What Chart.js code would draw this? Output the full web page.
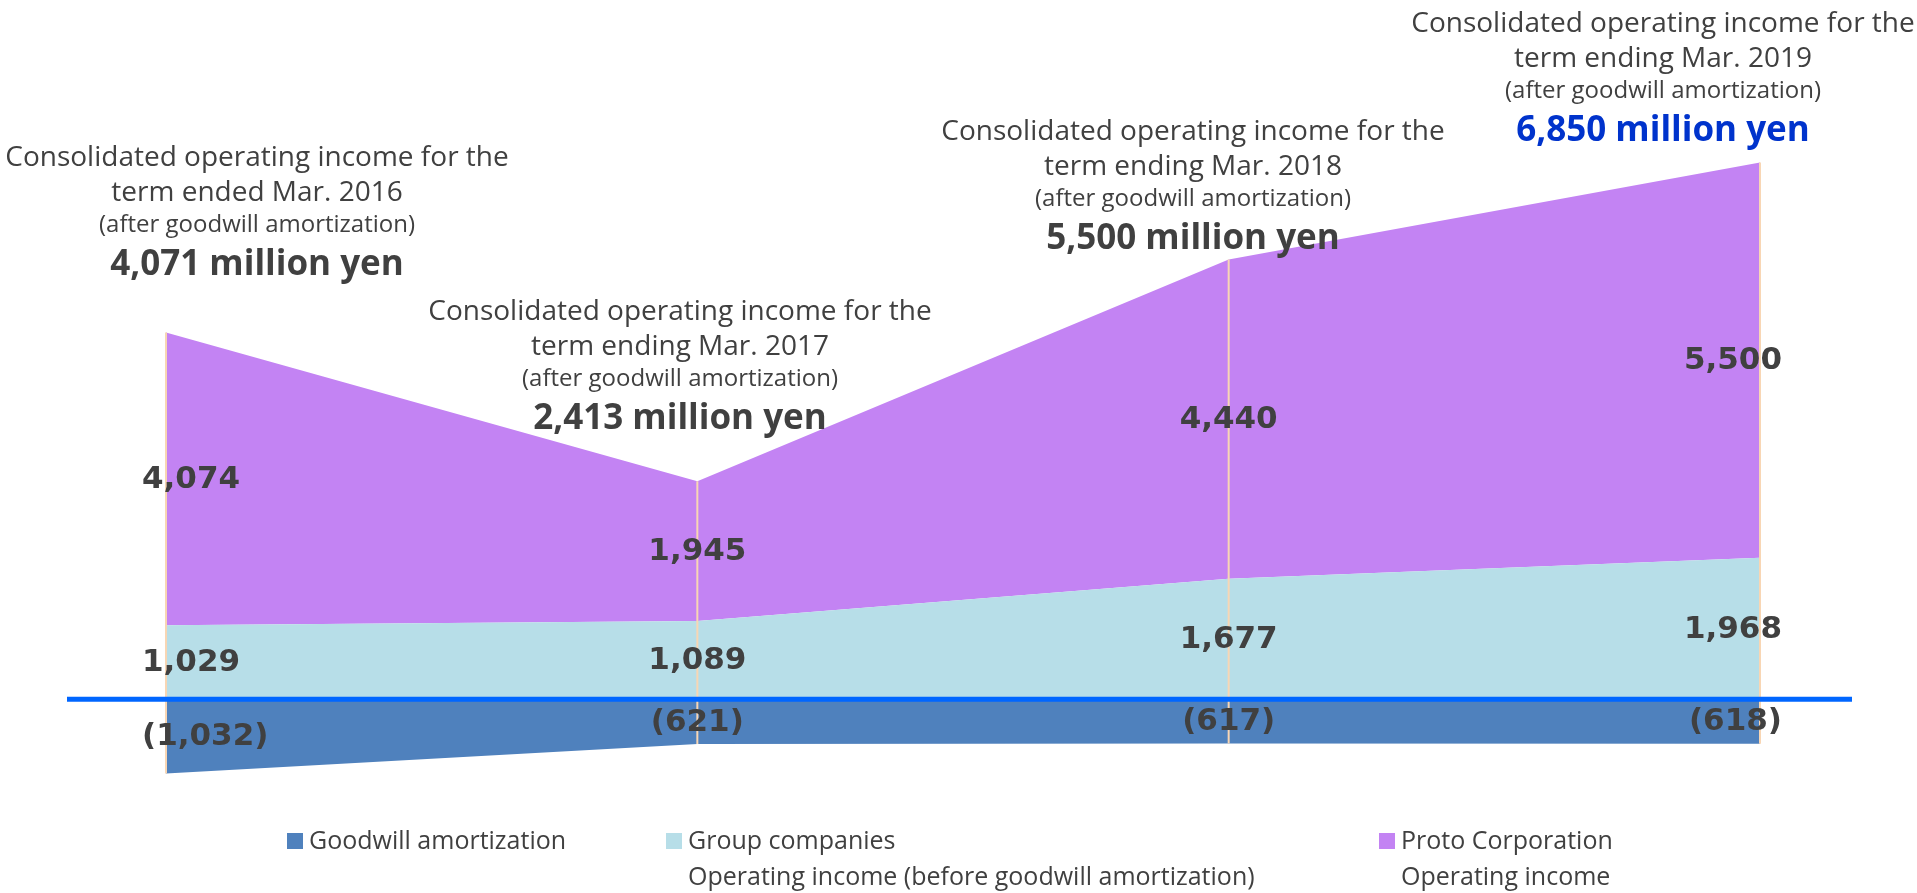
<!DOCTYPE html>
<html>
<head>
<meta charset="utf-8">
<script src="https://cdn.jsdelivr.net/npm/chart.js@4.4.1/dist/chart.umd.min.js"></script>
<style>
    html, body { margin: 0; padding: 0; background: #ffffff; }
    #wrap { width: 1917px; height: 893px; }
</style>
</head>
<body>
<div id="wrap"><canvas id="incomeChart" width="1917" height="893"></canvas></div>
<script>
// Fiscal terms (March year end)
const terms = ['Mar. 2016', 'Mar. 2017', 'Mar. 2018', 'Mar. 2019'];
const termVerbs = ['ended', 'ending', 'ending', 'ending'];

// Operating income, million yen
const goodwill = [-1032, -621, -617, -618];
const groupCompanies = [1029, 1089, 1677, 1968];
const protoCorp = [4074, 1945, 4440, 5500];

const seriesNames = [
    ['Goodwill amortization'],
    ['Group companies', 'Operating income (before goodwill amortization)'],
    ['Proto Corporation', 'Operating income']
];

const colors = {
    goodwill: '#4f81bd',
    group: '#b7dee8',
    proto: '#c383f3',
    text: '#404040',
    highlight: '#0033cc',
    zero: '#0066ff',
    drop: '#f8d6b4'
};

// where the callout blocks sit (centre x, first line y)
const calloutPos = [
    { x: 257, y: 158 },
    { x: 680, y: 312 },
    { x: 1193, y: 132 },
    { x: 1663, y: 24 }
];
const legendPos = [
    { x: 287 },
    { x: 666 },
    { x: 1379 }
];

const TEXT_FONT = '"Open Sans", "Noto Sans", sans-serif';
const NUM_FONT = '"DejaVu Sans", Verdana, sans-serif';

function fmt(v) {
    const s = Math.abs(v).toLocaleString('en-US');
    return v < 0 ? '(' + s + ')' : s;
}

const overlayPlugin = {
    id: 'overlay',
    afterDatasetsDraw(chart) {
        const ctx = chart.ctx;
        const yScale = chart.scales.y;
        const zeroY = yScale.getPixelForValue(0);
        const mGood = chart.getDatasetMeta(0).data;
        const mGroup = chart.getDatasetMeta(1).data;
        const mProto = chart.getDatasetMeta(2).data;
        const last = terms.length - 1;

        ctx.save();

        // thin drop lines at each term
        ctx.strokeStyle = colors.drop;
        ctx.lineWidth = 2;
        mProto.forEach((pt, i) => {
            ctx.beginPath();
            ctx.moveTo(pt.x, pt.y);
            ctx.lineTo(pt.x, mGood[i].y);
            ctx.stroke();
        });

        // zero line
        ctx.strokeStyle = colors.zero;
        ctx.lineWidth = 5;
        ctx.beginPath();
        ctx.moveTo(67, zeroY);
        ctx.lineTo(1852, zeroY);
        ctx.stroke();

        // value labels in the middle of each band
        ctx.fillStyle = colors.text;
        ctx.font = 'bold 31px ' + NUM_FONT;
        ctx.textBaseline = 'middle';
        const bands = [
            { vals: goodwill, top: i => zeroY, bottom: i => mGood[i].y },
            { vals: groupCompanies, top: i => mGroup[i].y, bottom: i => zeroY },
            { vals: protoCorp, top: i => mProto[i].y, bottom: i => mGroup[i].y }
        ];
        bands.forEach(b => {
            b.vals.forEach((v, i) => {
                const x = mProto[i].x;
                const y = (b.top(i) + b.bottom(i)) / 2;
                let tx = x;
                if (i === 0) { ctx.textAlign = 'left'; tx = x - 24; }
                else if (i === last) { ctx.textAlign = 'right'; tx = x + 22; }
                else { ctx.textAlign = 'center'; }
                ctx.fillText(fmt(v), tx, y + 1);
            });
        });

        // callouts with the consolidated total per term
        ctx.textAlign = 'center';
        terms.forEach((t, i) => {
            const p = calloutPos[i];
            const total = goodwill[i] + groupCompanies[i] + protoCorp[i];
            ctx.fillStyle = colors.text;
            ctx.font = '28px ' + TEXT_FONT;
            ctx.fillText('Consolidated operating income for the', p.x, p.y);
            ctx.fillText('term ' + termVerbs[i] + ' ' + t, p.x, p.y + 35);
            ctx.font = '24px ' + TEXT_FONT;
            ctx.fillText('(after goodwill amortization)', p.x, p.y + 67);
            ctx.font = 'bold 35px ' + TEXT_FONT;
            ctx.fillStyle = i === last ? colors.highlight : colors.text;
            ctx.fillText(fmt(total) + ' million yen', p.x, p.y + 107);
        });

        // legend
        const swatches = [colors.goodwill, colors.group, colors.proto];
        ctx.textAlign = 'left';
        ctx.font = '25px ' + TEXT_FONT;
        seriesNames.forEach((lines, i) => {
            const lx = legendPos[i].x;
            ctx.fillStyle = swatches[i];
            ctx.fillRect(lx, 833, 16, 16);
            ctx.fillStyle = colors.text;
            lines.forEach((txt, j) => {
                ctx.fillText(txt, lx + 22, 842 + j * 36);
            });
        });

        ctx.restore();
    }
};

new Chart(document.getElementById('incomeChart'), {
    type: 'line',
    data: {
        labels: terms,
        datasets: [
            {
                label: seriesNames[0].join(' '),
                data: goodwill,
                backgroundColor: colors.goodwill,
                borderWidth: 0,
                pointRadius: 0,
                fill: 'origin'
            },
            {
                label: seriesNames[1].join(' '),
                data: groupCompanies,
                backgroundColor: colors.group,
                borderWidth: 0,
                pointRadius: 0,
                fill: 'origin'
            },
            {
                label: seriesNames[2].join(' '),
                data: protoCorp,
                backgroundColor: colors.proto,
                borderWidth: 0,
                pointRadius: 0,
                fill: '-1'
            }
        ]
    },
    options: {
        responsive: false,
        animation: false,
        layout: {
            padding: { left: 166, right: 157, top: 2, bottom: 50 }
        },
        scales: {
            x: { display: false },
            y: { display: false, stacked: true, min: -2000, max: 9700 }
        },
        plugins: {
            legend: { display: false },
            tooltip: { enabled: false }
        }
    },
    plugins: [overlayPlugin]
});
</script>
</body>
</html>
